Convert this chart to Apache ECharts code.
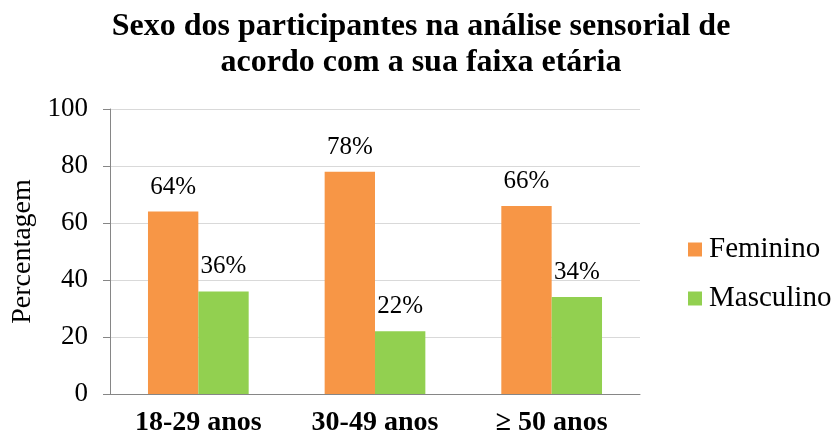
<!DOCTYPE html>
<html>
<head>
<meta charset="utf-8">
<script src="https://cdn.jsdelivr.net/npm/echarts@6/dist/echarts.min.js"></script>
<style>
  html, body { margin: 0; padding: 0; background: #fff; }
  #chart { width: 832px; height: 441px; }
</style>
</head>
<body>
<div id="chart"></div>
<script>
var faixas = ['18-29 anos', '30-49 anos', '≥ 50 anos'];
var feminino = [64, 78, 66];
var masculino = [36, 22, 34];
var yTicks = [0, 20, 40, 60, 80, 100];

var fonte = '"Liberation Serif", "DejaVu Serif", serif';
var myChart = echarts.init(document.getElementById('chart'));

var option = {
  animation: false,
  textStyle: { fontFamily: fonte, color: '#000' },
  title: {
    text: 'Sexo dos participantes na análise sensorial de\nacordo com a sua faixa etária',
    left: 416,
    top: 4,
    textAlign: 'center',
    textStyle: { fontFamily: fonte, fontSize: 32, fontWeight: 'bold', color: '#000', lineHeight: 36 }
  },
  legend: {
    orient: 'vertical',
    left: 683,
    top: 230,
    itemGap: 20,
    itemWidth: 14,
    itemHeight: 14,
    icon: 'rect',
    textStyle: { fontFamily: fonte, fontSize: 29, color: '#000', padding: [0, 0, 0, 2] },
    data: ['Feminino', 'Masculino']
  },
  grid: { left: 110, right: 192, top: 109, bottom: 47 },
  xAxis: {
    type: 'category',
    data: faixas,
    axisLine: { lineStyle: { color: '#868686' } },
    axisTick: { length: 7, lineStyle: { color: '#868686' } },
    axisLabel: { fontFamily: fonte, fontSize: 28, fontWeight: 'bold', color: '#000', margin: 15 }
  },
  yAxis: {
    type: 'value',
    min: yTicks[0],
    max: yTicks[yTicks.length - 1],
    interval: 20,
    name: 'Percentagem',
    nameLocation: 'middle',
    nameGap: 66,
    nameTextStyle: { fontFamily: fonte, fontSize: 28, color: '#000' },
    axisLine: { show: true, lineStyle: { color: '#868686' } },
    axisTick: { show: true, length: 7, lineStyle: { color: '#868686' } },
    splitLine: { lineStyle: { color: '#d9d9d9' } },
    axisLabel: { fontFamily: fonte, fontSize: 27, color: '#000', margin: 22 }
  },
  series: [
    {
      name: 'Feminino',
      type: 'bar',
      data: feminino,
      barGap: '0%',
      barCategoryGap: '43%',
      itemStyle: { color: '#F79646' },
      label: { show: true, position: 'top', distance: 12, formatter: '{c}%', fontFamily: fonte, fontSize: 25, color: '#000' }
    },
    {
      name: 'Masculino',
      type: 'bar',
      data: masculino,
      itemStyle: { color: '#92D050' },
      label: { show: true, position: 'top', distance: 12, formatter: '{c}%', fontFamily: fonte, fontSize: 25, color: '#000' }
    }
  ]
};
myChart.setOption(option);
</script>
</body>
</html>
